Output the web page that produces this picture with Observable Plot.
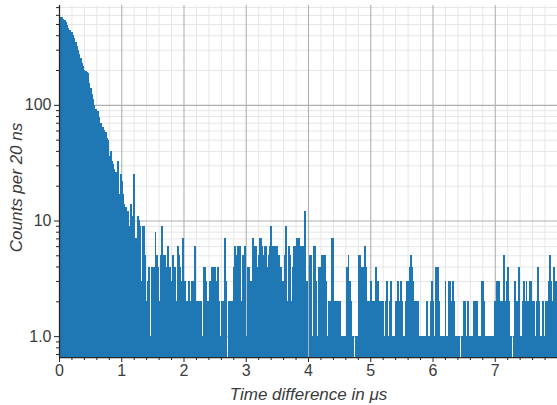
<!DOCTYPE html>
<html>
<head>
<meta charset="utf-8">
<script src="https://cdn.jsdelivr.net/npm/d3@7"></script>
<script src="https://cdn.jsdelivr.net/npm/@observablehq/plot@0.6"></script>
<style>
  html, body { margin: 0; padding: 0; background: #fff; }
  #chart svg { display: block; }
</style>
</head>
<body>
<div id="chart"></div>
<script>
// Histogram of time differences between start and stop signals, 20 ns bins from 0 to 8 µs
const binWidthUs = 0.02;

const counts = [
  580, 575, 570, 555, 540, 520, 490, 465, 440, 430,
  425, 405, 380, 350, 320, 300, 275, 255, 230, 215,
  200, 195, 192, 190, 155, 140, 125, 112, 100, 92,
  80, 88, 78, 70, 42, 64, 60, 58, 52, 50,
  36, 40, 33, 31, 28, 26, 22, 33, 17, 25,
  22, 17, 14, 13, 12, 12, 9, 14, 11, 7,
  25, 7, 7, 11, 10, 9, 3, 9, 9, 5,
  2, 3, 4, 1, 4, 3, 4, 8, 5, 4,
  2, 5, 9, 5, 5, 5, 4, 6, 4, 4,
  3, 5, 3, 4, 2, 6, 5, 4, 3, 7,
  3, 3, 2, 1, 3, 2, 3, 3, 1, 6,
  2, 2, 2, 2, 2, 1, 4, 4, 3, 2,
  2, 3, 4, 4, 2, 4, 3, 4, 2, 1,
  2, 2, 2, 7, 3, 0, 2, 2, 2, 2,
  4, 6, 5, 6, 4, 6, 2, 5, 3, 6,
  1, 4, 4, 3, 3, 7, 4, 6, 6, 4,
  5, 7, 7, 6, 5, 6, 6, 4, 5, 6,
  9, 6, 6, 4, 6, 6, 5, 2, 4, 3,
  3, 5, 9, 2, 6, 5, 2, 4, 6, 4,
  6, 7, 7, 3, 6, 6, 6, 12, 3, 3,
  0, 5, 5, 1, 6, 6, 3, 1, 4, 4,
  3, 5, 5, 5, 3, 1, 2, 2, 2, 7,
  7, 2, 2, 2, 2, 2, 0, 1, 1, 1,
  1, 4, 5, 3, 2, 1, 1, 0, 1, 1,
  5, 5, 4, 2, 4, 6, 4, 1, 2, 2,
  3, 1, 2, 2, 4, 2, 3, 2, 2, 2,
  2, 1, 2, 3, 1, 2, 3, 1, 1, 1,
  2, 2, 3, 2, 3, 2, 1, 1, 2, 3,
  3, 4, 5, 4, 3, 2, 2, 2, 2, 1,
  1, 1, 0, 1, 1, 2, 1, 1, 2, 3,
  2, 1, 4, 4, 4, 2, 1, 1, 1, 1,
  3, 1, 1, 3, 3, 2, 3, 2, 1, 1,
  1, 1, 0, 1, 1, 2, 2, 1, 2, 1,
  1, 1, 0, 2, 2, 2, 1, 1, 1, 3,
  3, 2, 1, 1, 1, 1, 1, 1, 1, 1,
  2, 3, 3, 3, 2, 2, 1, 5, 2, 3,
  4, 2, 1, 1, 0, 1, 3, 2, 2, 4,
  1, 1, 2, 3, 2, 3, 2, 2, 3, 3,
  2, 2, 1, 2, 4, 2, 1, 1, 2, 1,
  1, 2, 2, 3, 5, 3, 2, 4, 3, 3
];

// Axis ticks and labels
const xTicks = [0, 1, 2, 3, 4, 5, 6, 7];
const yTicks = [1, 10, 100];
const yTickLabels = ["1.0", "10", "100"];
const xDomain = [0, 8];
const yDomain = [0.66, 730];
const xLabel = "Time difference in μs";
const yLabel = "Counts per 20 ns";

// Minor ticks: every 0.2 µs on x, 2..9 per decade on y
const xMinor = d3.range(0, 8.001, 0.2).map(v => +v.toFixed(1)).filter(v => !xTicks.includes(v));
const yMinor = [];
for (const d of [0.1, 1, 10, 100]) for (let k = 2; k <= 9; k++) {
  const v = +(k * d).toPrecision(3);
  if (v >= yDomain[0] && v <= yDomain[1]) yMinor.push(v);
}

const bins = counts
  .map((c, i) => ({x1: i * binWidthUs, x2: (i + 1) * binWidthUs, count: c}))
  .filter(d => d.count > 0);

const barColor = "#1f77b4";
const axisColor = "#262626";
const textColor = "#3b3b3b";

const chart = Plot.plot({
  width: 557,
  height: 405,
  marginLeft: 59,
  marginRight: 0,
  marginTop: 5,
  marginBottom: 48,
  style: {fontFamily: "'Liberation Sans', Arial, sans-serif", fontSize: "16px", color: textColor, background: "#fff"},
  x: {domain: xDomain},
  y: {type: "log", domain: yDomain},
  marks: [
    // grid
    Plot.ruleX(xMinor, {stroke: "#e6e6e6", strokeWidth: 1}),
    Plot.ruleY(yMinor, {stroke: "#e6e6e6", strokeWidth: 1}),
    Plot.ruleX(xTicks.slice(1), {stroke: "#b0b0b0", strokeWidth: 1.1}),
    Plot.ruleY(yTicks, {stroke: "#b0b0b0", strokeWidth: 1.1}),
    // histogram bars, drawn with crisp edges so adjacent bins form a solid block
    Plot.rectY(bins, {x1: "x1", x2: "x2", y1: () => yDomain[0], y2: "count", fill: barColor, insetLeft: -0.3, insetRight: -0.3, shapeRendering: "crispEdges"}),
    // axes
    Plot.axisX(xTicks, {tickSize: 5, tickPadding: 2, tickFormat: d => String(d), label: null, stroke: axisColor}),
    Plot.axisX(xMinor, {tickSize: 3, tickFormat: () => "", label: null, stroke: axisColor}),
    Plot.axisY(yTicks, {tickSize: 5, tickPadding: 3, tickFormat: d => yTickLabels[yTicks.indexOf(d)], label: null, stroke: axisColor}),
    Plot.axisY(yMinor, {tickSize: 3, tickFormat: () => "", label: null, stroke: axisColor}),
    Plot.ruleX([xDomain[0]], {stroke: axisColor, strokeWidth: 1.25}),
    Plot.ruleY([yDomain[0]], {stroke: axisColor, strokeWidth: 1.25}),
    // axis titles
    Plot.text([xLabel], {frameAnchor: "bottom", dy: 42, fontSize: 17, fontStyle: "italic", fill: textColor}),
    Plot.text([yLabel], {frameAnchor: "left", textAnchor: "middle", dx: -43, dy: 6, rotate: -90, fontSize: 17, fontStyle: "italic", fill: textColor})
  ]
});

document.getElementById("chart").appendChild(chart);
</script>
</body>
</html>
